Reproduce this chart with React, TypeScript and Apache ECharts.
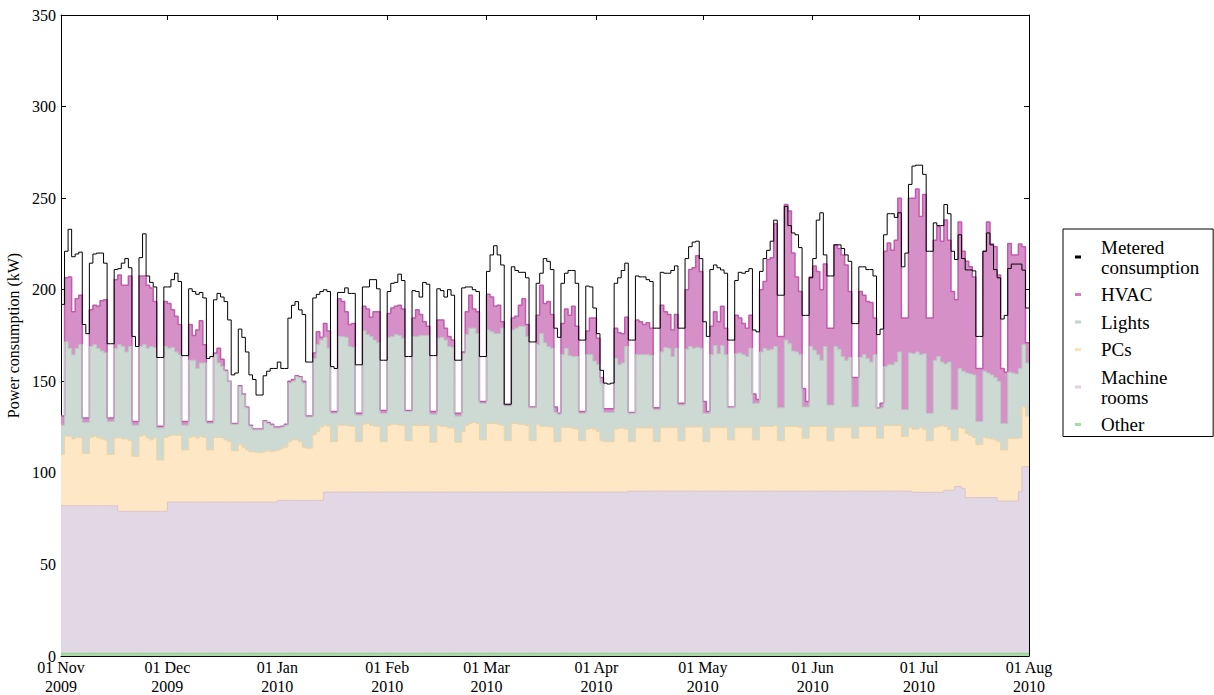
import React, { useEffect, useRef } from 'react';
import * as echarts from 'echarts';

// ---- calendar / ticks ----
const startDate = Date.UTC(2009, 10, 1);
const xTickMonths: [number, number][] = [
  [2009, 10], [2009, 11], [2010, 0], [2010, 1], [2010, 2],
  [2010, 3], [2010, 4], [2010, 5], [2010, 6], [2010, 7],
];
const xTickLabels = [
  '01 Nov\n2009', '01 Dec\n2009', '01 Jan\n2010', '01 Feb\n2010', '01 Mar\n2010',
  '01 Apr\n2010', '01 May\n2010', '01 Jun\n2010', '01 Jul\n2010', '01 Aug\n2010',
];
const yMin = 0;
const yMax = 350;
const yStep = 50;

// ---- daily values (kW), one entry per day from 01 Nov 2009 ----
const metered = [
  192, 221, 233, 218, 219.5, 220.5, 181,
  176, 214.5, 219.5, 220, 220, 214.5, 170.5,
  170.5, 211, 211.5, 214.5, 217, 212, 174.5,
  169, 217.5, 230.5, 207.5, 204, 201.5, 163,
  163, 201.5, 201.5, 205.5, 209, 204.5, 164,
  164, 200.5, 199, 197.5, 198.5, 195.5, 162.5,
  163.5, 194.5, 198, 196, 193.5, 183.5, 153.5,
  154.5, 178.5, 174, 166, 153.5, 151, 142.5,
  142.5, 153, 155.5, 157, 157, 160.5, 157,
  157, 184.5, 191.5, 193.5, 189, 186.5, 160.5,
  160.5, 195.5, 197.5, 199, 200, 199, 158,
  157, 198.5, 198.5, 201, 198, 198, 159,
  159, 201.5, 201.5, 205.5, 205.5, 200.5, 161.5,
  161.5, 199, 203.5, 204, 208.5, 205, 163.5,
  163.5, 199.5, 199, 196, 204, 203, 164,
  164, 200.5, 199.5, 196, 200, 197, 161.5,
  161.5, 201, 201.5, 201.5, 200, 199, 163.5,
  163.5, 210, 219, 224, 219, 213.5, 137.5,
  137.5, 212.5, 210.5, 209.5, 209.5, 206.5, 171.5,
  171.5, 203.5, 209, 217, 215.5, 211, 179,
  174, 203.5, 209, 210.5, 210.5, 203.5, 172.5,
  172.5, 202, 201.5, 190, 176, 156, 149,
  148.5, 149, 203.5, 206.5, 210.5, 214.5, 172.5,
  172.5, 207.5, 207, 207, 205.5, 204.5, 179,
  179, 209.5, 209, 209, 210.5, 213, 179,
  179, 217, 223.5, 226, 226.5, 217, 182.5,
  174.5, 211, 213.5, 212, 210.8, 209, 172.5,
  172.5, 205, 209.5, 209, 210, 211.5, 178,
  177, 210, 217, 221.5, 226.5, 238, 197,
  197, 245.5, 235, 231, 230, 223, 186,
  186, 206.5, 217, 238, 242, 219, 207.5,
  207.5, 224.5, 224.5, 222.5, 219, 215.5, 181.5,
  181.5, 212.5, 212.5, 211, 211, 207.5, 175.5,
  178.5, 230, 241.5, 241.5, 239.5, 242, 212.5,
  220, 257.5, 267.5, 268, 268, 263, 221,
  221, 236.5, 235, 235, 246.5, 241.5, 221,
  216.5, 230, 217, 210.8, 210.8, 210.3, 174.5,
  174.5, 221, 231, 224.5, 211, 206.5, 184,
  186, 211.6, 214, 214, 214, 210.7, 190,
];

// cumulative level (top edge) of each stacked layer
const hvacLevel = [
  131, 206.5, 207, 188, 195, 197, 130,
  130, 189, 191.5, 191, 194, 194.5, 130,
  130, 205.5, 208, 202.5, 202.5, 207.5, 128,
  128, 207.5, 207.5, 202.5, 201, 193.5, 125.5,
  125.5, 193.5, 192.5, 189, 185.5, 181, 128,
  128, 181, 175, 178, 183, 170, 128,
  128, 165.5, 168, 162, 156, 150, 127,
  127, 147.5, 143, 136, 126, 124, 124,
  124, 128.5, 127.5, 126.5, 125, 125, 125.5,
  126.5, 150, 151, 153, 152.5, 150, 131,
  131, 165.5, 177, 174, 181.5, 177.5, 133.5,
  133.5, 195, 193.5, 188, 181, 181.5, 132.5,
  132.5, 191, 189.5, 185, 188, 188, 134,
  134, 187, 190, 191, 191.5, 189.5, 134,
  134, 184.5, 189, 186.5, 182.5, 180, 133.5,
  133.5, 183.5, 183.5, 179, 174.5, 172.5, 132.5,
  132.5, 166, 188, 197, 189.5, 188, 139,
  139, 197.5, 196, 191, 191.5, 182.5, 137,
  137, 184.5, 185.5, 191.5, 195, 181, 136,
  136, 186, 202.5, 192.5, 193.5, 186.5, 136,
  132.5, 181.5, 189.5, 186, 191, 180, 133.5,
  133.5, 177.5, 184.5, 184.5, 173.5, 152, 135,
  135, 135, 179, 176.5, 176, 185, 133,
  133, 183.5, 182.5, 181, 182, 179, 135.5,
  135.5, 191.5, 188, 186.5, 178, 186.5, 138,
  138, 200, 211, 212, 218.5, 210, 139,
  133.5, 180, 188, 182.5, 191, 179, 136,
  136, 186, 184.5, 181.5, 179, 186, 143,
  140, 200, 204.5, 216.5, 217.5, 236, 174.5,
  174.5, 246.5, 243, 220, 207, 199, 146,
  139, 207, 213, 210, 200, 214, 179,
  179, 224.5, 222.5, 219, 213.5, 199, 152,
  152, 199, 197, 193.5, 193, 184.5, 135.5,
  138, 221, 225.5, 221.5, 227, 250, 184.5,
  184.5, 250, 250, 255, 240, 252, 184.5,
  184.5, 227, 234.5, 226.5, 238, 227, 199,
  194.5, 237, 221, 215.5, 212.5, 207, 157,
  157, 221, 237, 225, 223.5, 208, 157,
  155, 225.3, 219, 219, 225, 223.5, 171,
];

const lightsLevel = [
  126, 171.5, 168, 164.5, 168, 170, 127.5,
  127.5, 169, 170, 168, 166.5, 165.5, 128,
  128, 168, 170, 169, 166, 169, 126,
  126, 169, 170, 168, 169, 168.5, 124.5,
  124.5, 169, 168, 168.5, 166, 164.5, 126,
  126, 161.5, 161.5, 157, 160, 160, 127,
  127, 164.5, 160, 158, 155.5, 150, 126.5,
  126.5, 147, 142.5, 135.5, 125.5, 123.5, 123.5,
  123.5, 128, 127, 126, 124.5, 124.5, 125,
  126, 149, 150, 152.5, 152, 149, 130.5,
  130.5, 162.5, 170, 172.5, 174, 168, 132.5,
  132.5, 174.5, 174.5, 174, 169, 168.5, 131.5,
  131.5, 177.5, 175.5, 174.5, 172.5, 171, 132.5,
  132.5, 174, 174.5, 175.5, 175, 173.5, 133.5,
  133.5, 174.5, 174.5, 175, 175, 175, 132,
  132, 173.5, 174, 172.5, 169, 168.5, 131,
  131, 165, 175.5, 179, 179, 176, 138,
  138, 178, 177, 176, 176, 179, 136.5,
  136.5, 178, 179, 180, 180, 174.5, 135.5,
  135.5, 170, 176, 171, 169, 168, 133,
  132, 164.5, 168, 164, 163.5, 163.5, 132.5,
  132.5, 164.5, 164.5, 161, 159, 149, 133,
  133, 133, 162.5, 159, 160, 169, 132.5,
  132.5, 164.5, 164.5, 164.5, 164.5, 164, 134.5,
  134.5, 166, 168.5, 168, 163.5, 168, 137,
  137, 167.5, 169, 168, 168.5, 168, 132.5,
  132.5, 164.5, 169.5, 165, 169.5, 164.5, 135.5,
  135.5, 165, 165.5, 164.5, 163.5, 168, 138,
  138, 166, 168, 167, 167.5, 169, 135.5,
  135.5, 172.5, 170.5, 166.5, 166, 164.5, 136,
  136, 169, 167, 164.5, 161.5, 169, 137,
  137, 169, 167.5, 163.5, 161.5, 163, 136,
  136, 163, 164.5, 162.5, 160.5, 164.5, 135.5,
  135.5, 158, 159, 159, 160.5, 166, 134.5,
  134.5, 165.5, 165, 166, 164.5, 165, 132.5,
  132.5, 161.5, 163.5, 160.5, 159.5, 160.5, 134.5,
  134.5, 157, 155.5, 154.5, 154, 153.5, 128,
  128, 155.5, 154.5, 153.5, 152, 150, 127,
  127, 155, 154.5, 154, 157, 170, 160,
];

const pcsLevel = [
  110, 120, 120, 118.5, 119.3, 119, 110.5,
  110.5, 119.3, 120, 119.3, 118.5, 118, 110,
  110, 119, 119.3, 118.5, 118.5, 117.5, 109,
  109, 120, 120.5, 119, 118, 119, 107,
  107, 119.3, 120, 120.5, 120.5, 120.5, 112.5,
  112.5, 119.3, 119.8, 119, 119.8, 119.3, 112.5,
  112.5, 119.3, 119.3, 119, 118, 117, 112,
  112, 115.5, 114, 112.5, 111.5, 111.3, 111,
  111, 111.5, 112, 111.5, 112, 112.5, 113.5,
  114, 117, 118, 118, 117, 114, 113.5,
  113.5, 120.7, 122.5, 125, 126, 125.5, 117,
  117, 126, 126, 126, 125.5, 125.5, 117,
  117, 126.5, 127, 126, 125.5, 125.3, 117,
  117, 126, 126.5, 126.5, 126, 126, 117.5,
  117.5, 126, 125.8, 125.8, 125.8, 125.8, 116.7,
  116.7, 126, 125.3, 125.3, 124.5, 124.5, 116.7,
  116.7, 122.5, 126, 127, 127.5, 127, 118,
  118, 127, 127, 127, 126.5, 125.8, 117.5,
  117.5, 127, 127, 126.5, 126.2, 125.8, 117.5,
  117.5, 126.5, 125.3, 125.3, 125, 125, 117,
  117, 124.7, 125, 124.7, 124.3, 123.8, 117.5,
  117.5, 123.8, 124.3, 123.8, 122.5, 117.5, 117,
  117, 117, 123.8, 124.3, 124.3, 123.8, 117,
  117, 124.5, 124.5, 124.5, 124.5, 124.5, 117,
  117, 124.7, 124.7, 124.7, 124.7, 124.7, 117.5,
  117.5, 125, 125, 125, 125, 125, 117,
  117, 124.7, 124.7, 124.7, 124.7, 124.7, 118,
  118, 124.7, 124.7, 124.7, 124.7, 124.7, 118,
  118, 125.3, 125.3, 125.3, 125.3, 125.8, 117.5,
  117.5, 125.3, 125.3, 125.3, 125.3, 124.7, 118.9,
  118.9, 125.3, 125.3, 125.3, 125.3, 125.3, 117.5,
  117.5, 124.7, 124.7, 124.7, 124.7, 124.7, 118.9,
  118.9, 125.3, 125.3, 125.3, 125.3, 125.3, 118.9,
  118.9, 125.8, 125.8, 125.8, 125.8, 125.8, 119.8,
  119.8, 124.7, 123.8, 123.8, 124.7, 123.8, 117.5,
  117.5, 124.7, 125.3, 125.8, 125.3, 123.8, 117.5,
  117.5, 124.7, 124.3, 121.5, 120.5, 119.3, 115.3,
  115.3, 119.3, 118.9, 118.5, 118, 117, 112.5,
  112.5, 118.8, 118.8, 118.5, 119, 136, 131,
];

const machineLevel = [
  82, 82, 82, 82, 82, 82, 82,
  82, 82, 82, 82, 82, 82, 82,
  82, 82, 79, 79, 79, 79, 79,
  79, 79, 79, 79, 79, 79, 79,
  79, 79, 84, 84, 84, 84, 84,
  84, 84, 84, 84, 84, 84, 84,
  84, 84, 84, 84, 84, 84, 84,
  84, 84, 84, 84, 84, 84, 84,
  84, 84, 84, 84, 84, 85, 85,
  85, 85, 85, 85, 85, 85, 85,
  85, 85, 85, 85, 89.5, 89.5, 89.5,
  89.5, 89.5, 89.5, 89.5, 89.5, 89.5, 89.5,
  89.5, 89.5, 89.5, 89.5, 89.5, 89.5, 89.5,
  89.5, 89.5, 89.5, 89.5, 89.5, 89.5, 89.5,
  89.5, 89.5, 89.5, 89.5, 89.5, 89.5, 89.5,
  89.5, 89.5, 89.5, 89.5, 89.5, 89.5, 89.5,
  89.5, 89.5, 89.5, 89.5, 89.5, 89.5, 89.5,
  89.5, 89.5, 89.5, 89.5, 89.5, 89.5, 89.5,
  89.5, 89.5, 89.5, 89.5, 89.5, 89.5, 89.5,
  89.5, 89.5, 89.5, 89.5, 89.5, 89.5, 89.5,
  89.5, 89.5, 89.5, 89.5, 89.5, 89.5, 89.5,
  89.5, 89.5, 89.5, 89.5, 89.5, 89.5, 89.5,
  89.5, 89.5, 89.5, 89.5, 89.5, 89.5, 90,
  90, 90, 90, 90, 90, 90, 90,
  90, 90, 90, 90, 90, 90, 90,
  90, 90, 90, 90, 90, 90, 90,
  90, 90, 90, 90, 90, 90, 90,
  90, 90, 90, 90, 90, 90, 90,
  90, 90, 90, 90, 90, 90, 90,
  90, 90, 90, 90, 90, 90, 90,
  90, 90, 90, 90, 90, 90, 90,
  90, 90, 90, 90, 90, 90, 90,
  90, 90, 90, 90, 90, 90, 90,
  90, 90, 90, 90, 90, 90, 90,
  90, 90, 89.4, 89.4, 89.4, 89.4, 89.4,
  89.4, 89.4, 89.4, 89.4, 90.5, 90.5, 90.5,
  92.5, 92.5, 91.5, 86.5, 86.5, 86.5, 86.5,
  86.5, 86.5, 86.5, 86.5, 86.5, 84.6, 84.6,
  84.6, 84.6, 84.6, 84.6, 89.7, 103.4, 103.4,
];

const otherLevel = [
  1.5, 1.5, 1.5, 1.5, 1.5, 1.5, 1.5,
  1.5, 1.5, 1.5, 1.5, 1.5, 1.5, 1.5,
  1.5, 1.5, 1.5, 1.5, 1.5, 1.5, 1.5,
  1.5, 1.5, 1.5, 1.5, 1.5, 1.5, 1.5,
  1.5, 1.5, 1.5, 1.5, 1.5, 1.5, 1.5,
  1.5, 1.5, 1.5, 1.5, 1.5, 1.5, 1.5,
  1.5, 1.5, 1.5, 1.5, 1.5, 1.5, 1.5,
  1.5, 1.5, 1.5, 1.5, 1.5, 1.5, 1.5,
  1.5, 1.5, 1.5, 1.5, 1.5, 1.5, 1.5,
  1.5, 1.5, 1.5, 1.5, 1.5, 1.5, 1.5,
  1.5, 1.5, 1.5, 1.5, 1.5, 1.5, 1.5,
  1.5, 1.5, 1.5, 1.5, 1.5, 1.5, 1.5,
  1.5, 1.5, 1.5, 1.5, 1.5, 1.5, 1.5,
  1.5, 1.5, 1.5, 1.5, 1.5, 1.5, 1.5,
  1.5, 1.5, 1.5, 1.5, 1.5, 1.5, 1.5,
  1.5, 1.5, 1.5, 1.5, 1.5, 1.5, 1.5,
  1.5, 1.5, 1.5, 1.5, 1.5, 1.5, 1.5,
  1.5, 1.5, 1.5, 1.5, 1.5, 1.5, 1.5,
  1.5, 1.5, 1.5, 1.5, 1.5, 1.5, 1.5,
  1.5, 1.5, 1.5, 1.5, 1.5, 1.5, 1.5,
  1.5, 1.5, 1.5, 1.5, 1.5, 1.5, 1.5,
  1.5, 1.5, 1.5, 1.5, 1.5, 1.5, 1.5,
  1.5, 1.5, 1.5, 1.5, 1.5, 1.5, 1.5,
  1.5, 1.5, 1.5, 1.5, 1.5, 1.5, 1.5,
  1.5, 1.5, 1.5, 1.5, 1.5, 1.5, 1.5,
  1.5, 1.5, 1.5, 1.5, 1.5, 1.5, 1.5,
  1.5, 1.5, 1.5, 1.5, 1.5, 1.5, 1.5,
  1.5, 1.5, 1.5, 1.5, 1.5, 1.5, 1.5,
  1.5, 1.5, 1.5, 1.5, 1.5, 1.5, 1.5,
  1.5, 1.5, 1.5, 1.5, 1.5, 1.5, 1.5,
  1.5, 1.5, 1.5, 1.5, 1.5, 1.5, 1.5,
  1.5, 1.5, 1.5, 1.5, 1.5, 1.5, 1.5,
  1.5, 1.5, 1.5, 1.5, 1.5, 1.5, 1.5,
  1.5, 1.5, 1.5, 1.5, 1.5, 1.5, 1.5,
  1.5, 1.5, 1.5, 1.5, 1.5, 1.5, 1.5,
  1.5, 1.5, 1.5, 1.5, 1.5, 1.5, 1.5,
  1.5, 1.5, 1.5, 1.5, 1.5, 1.5, 1.5,
  1.5, 1.5, 1.5, 1.5, 1.5, 1.5, 1.5,
  1.5, 1.5, 1.5, 1.5, 1.5, 1.5, 1.5,
];

const FONT = 'Liberation Serif, serif';
const DAY = 86400000;

const xTickValues = xTickMonths.map(([y, m]) => Math.round((Date.UTC(y, m, 1) - startDate) / DAY));
const xMax = xTickValues[xTickValues.length - 1];

// step ('post') data: each day value holds until the next day
const toSteps = (arr: number[]) => {
  const pts: number[][] = arr.map((v, i) => [i, v]);
  pts.push([arr.length, arr[arr.length - 1]]);
  return pts;
};

const layer = (name: string, arr: number[], fill: string, edge: string, width: number) => ({
  name,
  type: 'line',
  data: toSteps(arr),
  step: 'end',
  symbol: 'none',
  showSymbol: false,
  silent: true,
  xAxisIndex: 0,
  yAxisIndex: 0,
  lineStyle: { color: edge, width },
  areaStyle: { color: fill, opacity: 1 },
  itemStyle: { color: fill },
  z: 2,
});

const layers = [
  { name: 'HVAC', arr: hvacLevel, fill: '#d690c8', edge: '#c25aae', width: 1.5, legend: '#d27fc0' },
  { name: 'Lights', arr: lightsLevel, fill: '#cdd9d3', edge: '#b8c8c0', width: 1, legend: '#c3d3cb' },
  { name: 'PCs', arr: pcsLevel, fill: '#fee7c4', edge: '#efd4a4', width: 1, legend: '#fde2b8' },
  { name: 'Machine rooms', arr: machineLevel, fill: '#e2d7e5', edge: '#dcc4cb', width: 1, legend: '#e0d0e0' },
  { name: 'Other', arr: otherLevel, fill: '#a9dba9', edge: '#8fcf8f', width: 1, legend: '#a6daa6' },
];

const tickCommon = { show: true, inside: true, length: 5, lineStyle: { color: '#000', width: 1 } };
const axisLineCommon = { show: true, onZero: false, lineStyle: { color: '#000', width: 1 } };

const xLabelFormatter = (v: number) => {
  const i = xTickValues.indexOf(Math.round(v));
  return i >= 0 ? xTickLabels[i] : '';
};

const option: any = {
  animation: false,
  backgroundColor: '#fff',
  grid: { left: 61, top: 15, width: 968, height: 641, containLabel: false, outerBoundsMode: 'none' },
  legend: {
    orient: 'vertical',
    left: 1063,
    top: 229,
    padding: [8, 14, 2, 12],
    itemGap: 7.5,
    itemWidth: 6,
    itemHeight: 3,
    borderColor: '#000',
    borderWidth: 1,
    borderRadius: 0,
    backgroundColor: '#fff',
    selectedMode: false,
    textStyle: { fontFamily: FONT, fontSize: 19, lineHeight: 20, color: '#000', padding: [0, 0, 0, 15] },
    formatter: (name: string) =>
      name === 'Metered consumption' ? 'Metered\nconsumption' : name === 'Machine rooms' ? 'Machine\nrooms' : name,
    data: [
      { name: 'Metered consumption', icon: 'rect', itemStyle: { color: '#000', borderWidth: 0 } },
      ...layers.map((l) => ({ name: l.name, icon: 'rect', itemStyle: { color: l.legend, borderWidth: 0 } })),
    ],
  },
  xAxis: [
    {
      type: 'value',
      position: 'bottom',
      min: 0,
      max: xMax,
      axisLine: axisLineCommon,
      axisTick: { ...tickCommon, customValues: xTickValues },
      axisLabel: {
        customValues: xTickValues,
        formatter: xLabelFormatter,
        fontFamily: FONT,
        fontSize: 16,
        lineHeight: 19,
        color: '#000',
        margin: 2,
        showMinLabel: true,
        showMaxLabel: true,
      },
      splitLine: { show: false },
    },
    {
      type: 'value',
      position: 'top',
      min: 0,
      max: xMax,
      axisLine: axisLineCommon,
      axisTick: { ...tickCommon, customValues: xTickValues },
      axisLabel: { show: false },
      splitLine: { show: false },
    },
  ],
  yAxis: [
    {
      type: 'value',
      position: 'left',
      min: yMin,
      max: yMax,
      interval: yStep,
      name: 'Power consumption (kW)',
      nameLocation: 'middle',
      nameGap: 33,
      nameTextStyle: { fontFamily: FONT, fontSize: 16, color: '#000' },
      axisLine: axisLineCommon,
      axisTick: tickCommon,
      axisLabel: { fontFamily: FONT, fontSize: 16, color: '#000', margin: 5 },
      splitLine: { show: false },
    },
    {
      type: 'value',
      position: 'right',
      min: yMin,
      max: yMax,
      interval: yStep,
      axisLine: axisLineCommon,
      axisTick: tickCommon,
      axisLabel: { show: false },
      splitLine: { show: false },
    },
  ],
  series: [
    ...layers.map((l) => layer(l.name, l.arr, l.fill, l.edge, l.width)),
    {
      name: 'Metered consumption',
      type: 'line',
      data: toSteps(metered),
      step: 'end',
      symbol: 'none',
      showSymbol: false,
      silent: true,
      xAxisIndex: 0,
      yAxisIndex: 0,
      lineStyle: { color: '#000', width: 1 },
      itemStyle: { color: '#000' },
      z: 5,
    },
  ],
};

export default function App() {
  const ref = useRef<HTMLDivElement>(null);
  useEffect(() => {
    if (!ref.current) return;
    const chart = echarts.init(ref.current, null, { renderer: 'svg' });
    chart.setOption(option);
    return () => {
      chart.dispose();
    };
  }, []);
  return (
    <div
      ref={ref}
      style={{ position: 'fixed', left: 0, top: 0, width: 1214, height: 695, background: '#fff' }}
    />
  );
}
